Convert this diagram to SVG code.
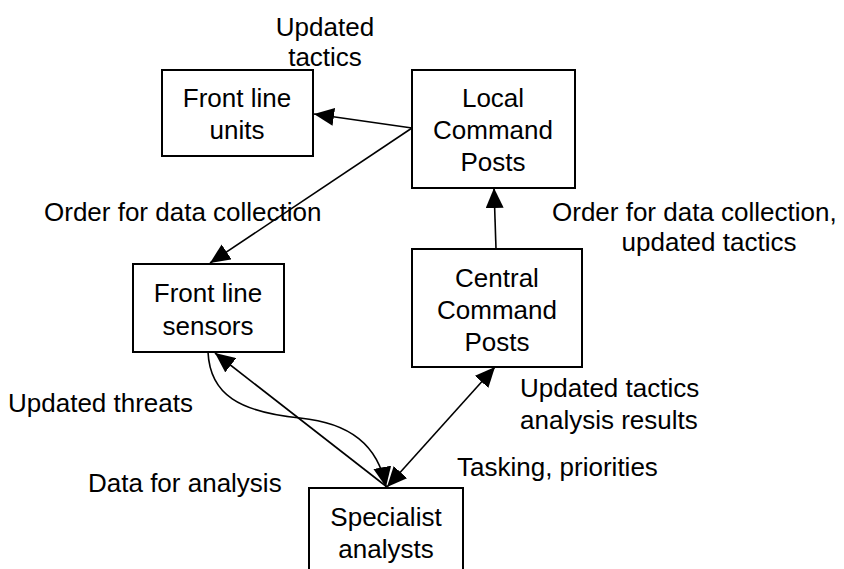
<svg xmlns="http://www.w3.org/2000/svg" width="844" height="569" viewBox="0 0 844 569">
<defs>
<style>
.box{fill:#fff;stroke:#000;stroke-width:2}
.t{font-family:"Liberation Sans",Arial,sans-serif;font-size:26px;fill:#000}
.m{text-anchor:middle}
.c{fill:none;stroke:#000;stroke-width:1.6}
</style>
<marker id="ah" viewBox="0 0 20 18" refX="20" refY="9" markerWidth="20" markerHeight="18" markerUnits="userSpaceOnUse" orient="auto-start-reverse">
<path d="M0,0 L20,9 L0,18 z" fill="#000"/>
</marker>
</defs>
<rect width="844" height="569" fill="#fff"/>
<g id="connectors">
<line class="c" x1="412" y1="128" x2="314" y2="114" marker-end="url(#ah)"/>
<line class="c" x1="412" y1="128" x2="210" y2="263" marker-end="url(#ah)"/>
<line class="c" x1="496" y1="249" x2="494" y2="188" marker-end="url(#ah)"/>
<line class="c" x1="387" y1="487" x2="495" y2="367" marker-start="url(#ah)" marker-end="url(#ah)"/>
<line class="c" x1="387" y1="487" x2="215" y2="353" marker-end="url(#ah)"/>
<path class="c" d="M208,352 C210,395 240,412 300,418 C350,423 378,445 386,487" marker-end="url(#ah)"/>
</g>
<g id="front-line-units">
<rect class="box" x="162" y="70" width="151" height="86"/>
<text class="t m" x="237" y="107">Front line</text>
<text class="t m" x="237" y="139">units</text>
</g>
<g id="local-command-posts">
<rect class="box" x="412" y="70" width="163" height="118"/>
<text class="t m" x="493" y="107">Local</text>
<text class="t m" x="493" y="139">Command</text>
<text class="t m" x="493" y="171">Posts</text>
</g>
<g id="front-line-sensors">
<rect class="box" x="133" y="264" width="151" height="88"/>
<text class="t m" x="208" y="302">Front line</text>
<text class="t m" x="208" y="335">sensors</text>
</g>
<g id="central-command-posts">
<rect class="box" x="412" y="249" width="170" height="118"/>
<text class="t m" x="497" y="287">Central</text>
<text class="t m" x="497" y="319">Command</text>
<text class="t m" x="497" y="351">Posts</text>
</g>
<g id="specialist-analysts">
<rect class="box" x="309" y="488" width="154" height="95"/>
<text class="t m" x="386" y="526">Specialist</text>
<text class="t m" x="386" y="558">analysts</text>
</g>
<g id="labels">
<text class="t m" x="325" y="36">Updated</text>
<text class="t m" x="325" y="66">tactics</text>
<text class="t" x="44" y="221">Order for data collection</text>
<text class="t" x="552" y="221">Order for data collection,</text>
<text class="t m" x="709" y="251">updated tactics</text>
<text class="t" x="520" y="397">Updated tactics</text>
<text class="t" x="520" y="429">analysis results</text>
<text class="t" x="457" y="476">Tasking, priorities</text>
<text class="t" x="8" y="412">Updated threats</text>
<text class="t" x="88" y="492">Data for analysis</text>
</g>
</svg>
